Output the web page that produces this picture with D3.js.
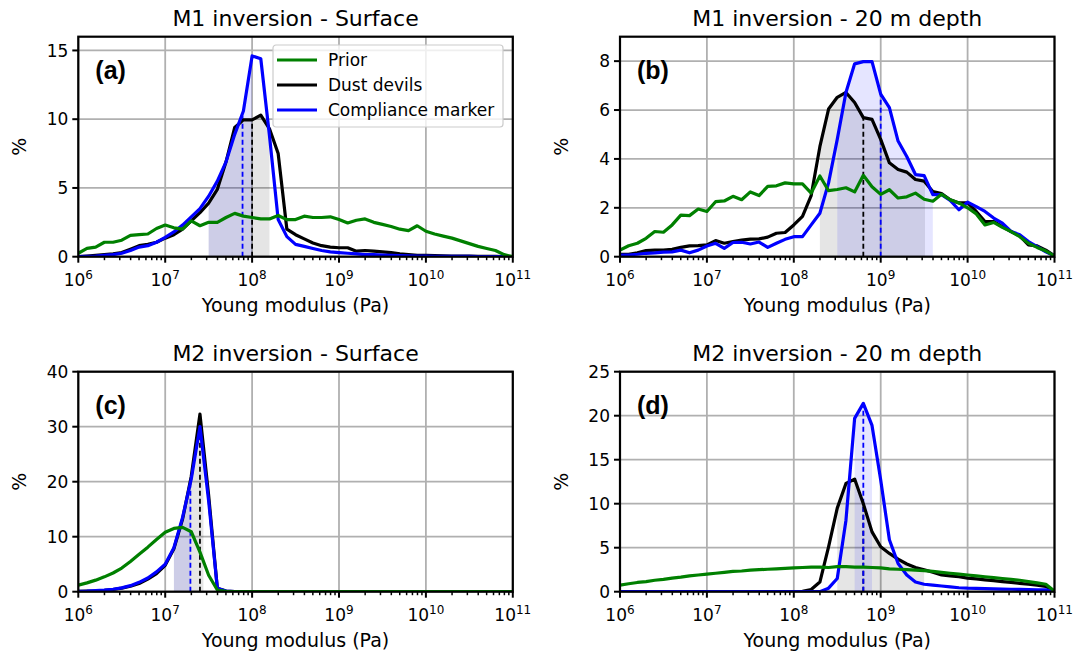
<!DOCTYPE html>
<html>
<head>
<meta charset="utf-8">
<script src="https://cdn.jsdelivr.net/npm/d3@7/dist/d3.min.js"></script>
<style>
  body { margin: 0; background: #fff; }
  text { font-family: "DejaVu Sans", sans-serif; fill: #000; }
</style>
</head>
<body>
<div id="chart"></div>
<script>
// log10 of the Young modulus (Pa) at each histogram point
var logE = [6.0,6.1,6.2,6.3,6.4,6.5,6.6,6.7,6.8,6.9,
            7.0,7.1,7.2,7.3,7.4,7.5,7.6,7.7,7.8,7.9,
            8.0,8.1,8.2,8.3,8.4,8.5,8.6,8.7,8.8,8.9,
            9.0,9.1,9.2,9.3,9.4,9.5,9.6,9.7,9.8,9.9,
            10.0,10.1,10.2,10.3,10.4,10.5,10.6,10.7,10.8,10.9,
            11.0];

// (a) M1 surface
var priorA = [0.25,0.6,0.7,1.05,1.05,1.2,1.55,1.6,1.65,2.05,
              2.3,2.1,2.0,2.6,2.25,2.5,2.5,2.85,3.15,2.95,
              2.85,2.75,2.75,3.0,2.7,2.7,2.95,2.85,2.85,2.9,
              2.7,2.45,2.65,2.75,2.5,2.35,2.2,2.0,1.9,2.25,
              1.85,1.65,1.5,1.35,1.15,0.95,0.75,0.6,0.45,0.15,
              0];
var dustA = [0,0.05,0.1,0.15,0.2,0.3,0.55,0.8,0.9,1.05,
             1.35,1.6,2.0,2.6,3.2,3.9,4.9,6.9,9.4,9.95,
             9.95,10.3,9.3,7.5,2.0,1.6,1.3,1.0,0.8,0.7,
             0.65,0.65,0.4,0.45,0.4,0.35,0.3,0.2,0.15,0.1,
             0.1,0.08,0.06,0.05,0.05,0.04,0.03,0.02,0.02,0.01,
             0];
var compA = [0,0.02,0.05,0.1,0.15,0.25,0.45,0.7,0.8,1.05,
             1.4,1.8,2.3,2.9,3.5,4.4,5.5,6.9,8.9,10.6,
             14.6,14.4,8.8,2.7,1.46,0.9,0.75,0.6,0.45,0.35,
             0.3,0.25,0.2,0.15,0.15,0.12,0.1,0.08,0.06,0.05,
             0.04,0.03,0.03,0.02,0.02,0.02,0.01,0.01,0.01,0.01,
             0];

// (b) M1 20 m depth
var priorB = [0.27,0.45,0.55,0.75,1.03,1.0,1.3,1.7,1.68,1.95,
              1.85,2.25,2.28,2.47,2.33,2.65,2.5,2.88,2.9,3.02,
              2.98,2.98,2.6,3.3,2.7,2.75,2.82,2.65,3.33,2.86,
              2.55,2.74,2.4,2.45,2.6,2.35,2.27,2.55,2.33,2.2,
              2.0,1.75,1.3,1.4,1.2,1.03,0.82,0.55,0.38,0.23,
              0.03];
var dustB = [0.1,0.1,0.16,0.25,0.27,0.27,0.3,0.38,0.44,0.45,
             0.48,0.66,0.55,0.62,0.68,0.72,0.73,0.8,0.96,0.99,
             1.3,1.65,2.5,4.5,6.04,6.52,6.72,6.31,5.69,5.62,
             4.8,3.84,3.57,3.46,3.16,3.09,2.67,2.58,2.33,2.2,
             2.2,1.85,1.44,1.44,1.23,1.03,0.85,0.48,0.44,0.27,
             0.03];
var compB = [0.07,0.07,0.1,0.14,0.16,0.19,0.2,0.27,0.16,0.27,
             0.44,0.55,0.34,0.58,0.59,0.52,0.6,0.38,0.55,0.71,
             0.82,0.82,1.3,1.78,3.02,4.8,6.72,7.89,7.98,7.98,
             6.65,6.1,4.73,4.1,3.36,3.32,2.54,2.54,2.3,1.92,
             2.23,2.05,1.85,1.58,1.37,1.03,0.9,0.62,0.41,0.2,
             0.03];

// (c) M2 surface
var priorC = [1.2,1.6,2.1,2.7,3.4,4.3,5.5,6.8,8.1,9.5,
              10.8,11.5,11.7,10.9,7.2,3.0,0.3,0.05,0.02,0.02,
              0.02,0.02,0.02,0.02,0.02,0.02,0.02,0.02,0.02,0.02,
              0.02,0.02,0.02,0.02,0.02,0.02,0.02,0.02,0.02,0.02,
              0.02,0.02,0.02,0.02,0.02,0.02,0.02,0.02,0.02,0.02,
              0.02];
var dustC = [0.05,0.1,0.15,0.25,0.4,0.65,1.0,1.5,2.3,3.3,
             4.8,7.8,13.2,21.0,32.3,17.5,0.6,0.1,0,0,
             0,0,0,0,0,0,0,0,0,0,
             0,0,0,0,0,0,0,0,0,0,
             0,0,0,0,0,0,0,0,0,0,
             0];
var compC = [0.05,0.1,0.2,0.3,0.45,0.7,1.1,1.7,2.5,3.6,
             5.0,8.0,13.5,20.5,30.0,16.5,0.6,0.1,0,0,
             0,0,0,0,0,0,0,0,0,0,
             0,0,0,0,0,0,0,0,0,0,
             0,0,0,0,0,0,0,0,0,0,
             0];

// (d) M2 20 m depth
var priorD = [0.75,0.9,1.05,1.15,1.3,1.4,1.55,1.65,1.8,1.9,
              2.0,2.1,2.2,2.3,2.35,2.45,2.5,2.55,2.6,2.65,
              2.7,2.75,2.8,2.8,2.75,2.85,2.85,2.8,2.8,2.75,
              2.7,2.6,2.55,2.5,2.45,2.4,2.3,2.2,2.1,2.0,
              1.9,1.8,1.7,1.6,1.5,1.4,1.3,1.15,1.0,0.85,
              0.05];
var dustD = [0,0,0,0,0,0,0,0,0,0,
             0,0,0,0,0,0,0,0,0,0,
             0,0.05,0.25,1.1,5.1,9.5,12.3,12.8,10.0,6.8,
             5.1,4.35,3.7,3.15,2.75,2.5,2.2,1.9,1.8,1.7,
             1.55,1.45,1.35,1.25,1.15,1.05,0.95,0.85,0.75,0.6,
             0.05];
var compD = [0,0,0,0,0,0,0,0,0,0,
             0,0,0,0,0,0,0,0,0,0,
             0,0,0,0,0.4,1.5,8.1,19.7,21.4,18.9,
             12.7,5.9,3.2,1.9,1.1,0.85,0.75,0.65,0.55,0.45,
             0.4,0.38,0.35,0.33,0.3,0.28,0.26,0.24,0.22,0.2,
             0];

// shaded intervals and medians (log10 Pa)
var ciDust = [[7.5, 8.2], [8.3, 9.51], [7.1, 7.44], [8.5, 9.5]];
var ciComp = [[7.5, 8.0], [8.5, 9.6], [7.1, 7.29], [8.7, 8.9]];
var medDust = [8.0, 8.8, 7.4, 8.8];
var medComp = [7.89, 9.0, 7.29, 8.8];

var titles = ["M1 inversion - Surface", "M1 inversion - 20 m depth",
              "M2 inversion - Surface", "M2 inversion - 20 m depth"];
var letters = ["(a)", "(b)", "(c)", "(d)"];
var yMax = [16, 9, 40, 25];
var yTicks = [[0,5,10,15], [0,2,4,6,8], [0,10,20,30,40], [0,5,10,15,20,25]];
var xExp = [6,7,8,9,10,11];

var priors = [priorA, priorB, priorC, priorD];
var dusts = [dustA, dustB, dustC, dustD];
var comps = [compA, compB, compC, compD];

var legendNames = ["Prior", "Dust devils", "Compliance marker"];
var colPrior = "#008000", colDust = "#000000", colComp = "#0000ff";

var W = 434.5, H = 220;
var lefts = [78.3, 620, 78.3, 620];
var tops = [36.7, 36.7, 371.7, 371.7];

var svg = d3.select("#chart").append("svg")
    .attr("width", 1090)
    .attr("height", 656);

function valueAt(series, lv) {
    for (var k = 0; k < logE.length - 1; k++) {
        if (lv >= logE[k] && lv <= logE[k+1]) {
            var t = (lv - logE[k]) / (logE[k+1] - logE[k]);
            return series[k] + t * (series[k+1] - series[k]);
        }
    }
    return series[series.length - 1];
}

function bandPoints(series, lo, hi) {
    var pts = [{l: lo, v: valueAt(series, lo)}];
    for (var k = 0; k < logE.length; k++) {
        if (logE[k] > lo + 1e-9 && logE[k] < hi - 1e-9) pts.push({l: logE[k], v: series[k]});
    }
    pts.push({l: hi, v: valueAt(series, hi)});
    return pts;
}

for (var p = 0; p < 4; p++) {
    var g = svg.append("g").attr("transform", "translate(" + lefts[p] + "," + tops[p] + ")");

    var x = d3.scaleLog().domain([1e6, 1e11]).range([0, W]);
    var y = d3.scaleLinear().domain([0, yMax[p]]).range([H, 0]);

    g.append("clipPath").attr("id", "clip" + p)
        .append("rect").attr("width", W).attr("height", H);

    // grid
    xExp.forEach(function(e) {
        g.append("line")
            .attr("x1", x(Math.pow(10, e))).attr("x2", x(Math.pow(10, e)))
            .attr("y1", 0).attr("y2", H)
            .attr("stroke", "#b0b0b0").attr("stroke-width", 1.8);
    });
    yTicks[p].forEach(function(t) {
        g.append("line")
            .attr("x1", 0).attr("x2", W)
            .attr("y1", y(t)).attr("y2", y(t))
            .attr("stroke", "#b0b0b0").attr("stroke-width", 1.8);
    });

    var plot = g.append("g").attr("clip-path", "url(#clip" + p + ")");

    var area = d3.area()
        .x(function(d) { return x(Math.pow(10, d.l)); })
        .y0(y(0))
        .y1(function(d) { return y(d.v); });

    plot.append("path")
        .attr("d", area(bandPoints(dusts[p], ciDust[p][0], ciDust[p][1])))
        .attr("fill", "#000").attr("fill-opacity", 0.1);
    plot.append("path")
        .attr("d", area(bandPoints(comps[p], ciComp[p][0], ciComp[p][1])))
        .attr("fill", "#0000ff").attr("fill-opacity", 0.1);

    // median lines
    plot.append("line")
        .attr("x1", x(Math.pow(10, medDust[p]))).attr("x2", x(Math.pow(10, medDust[p])))
        .attr("y1", y(0)).attr("y2", y(valueAt(dusts[p], medDust[p])))
        .attr("stroke", colDust).attr("stroke-width", 1.8).attr("stroke-dasharray", "5,3");
    plot.append("line")
        .attr("x1", x(Math.pow(10, medComp[p]))).attr("x2", x(Math.pow(10, medComp[p])))
        .attr("y1", y(0)).attr("y2", y(valueAt(comps[p], medComp[p])))
        .attr("stroke", colComp).attr("stroke-width", 1.8).attr("stroke-dasharray", "5,3");

    var line = d3.line()
        .x(function(d, i) { return x(Math.pow(10, logE[i])); })
        .y(function(d) { return y(d); });

    [[dusts[p], colDust], [comps[p], colComp], [priors[p], colPrior]].forEach(function(s) {
        plot.append("path")
            .attr("d", line(s[0]))
            .attr("fill", "none")
            .attr("stroke", s[1])
            .attr("stroke-width", 3.2)
            .attr("stroke-linejoin", "round");
    });

    // frame
    g.append("rect").attr("width", W).attr("height", H)
        .attr("fill", "none").attr("stroke", "#000").attr("stroke-width", 2.2);

    // x ticks (major + minor)
    xExp.forEach(function(e, i) {
        g.append("line")
            .attr("x1", x(Math.pow(10, e))).attr("x2", x(Math.pow(10, e)))
            .attr("y1", H).attr("y2", H + 6)
            .attr("stroke", "#000").attr("stroke-width", 2);
        var lab = g.append("text")
            .attr("x", x(Math.pow(10, e)))
            .attr("y", H + 29)
            .attr("text-anchor", "middle")
            .style("font-size", "17px");
        lab.append("tspan").text("10");
        lab.append("tspan").attr("dy", -7).style("font-size", "12px").text(e);
        if (i < xExp.length - 1) {
            for (var m = 2; m <= 9; m++) {
                var xv = x(m * Math.pow(10, e));
                g.append("line")
                    .attr("x1", xv).attr("x2", xv)
                    .attr("y1", H).attr("y2", H + 3.5)
                    .attr("stroke", "#000").attr("stroke-width", 1.5);
            }
        }
    });

    // y ticks
    yTicks[p].forEach(function(t) {
        g.append("line")
            .attr("x1", -6).attr("x2", 0)
            .attr("y1", y(t)).attr("y2", y(t))
            .attr("stroke", "#000").attr("stroke-width", 2);
        g.append("text")
            .attr("x", -10)
            .attr("y", y(t))
            .attr("dy", "0.36em")
            .attr("text-anchor", "end")
            .style("font-size", "17px")
            .text(t);
    });

    g.append("text")
        .attr("x", W / 2).attr("y", -11)
        .attr("text-anchor", "middle")
        .style("font-size", "22px")
        .text(titles[p]);

    g.append("text")
        .attr("x", W / 2).attr("y", H + 55)
        .attr("text-anchor", "middle")
        .style("font-size", "19px")
        .text("Young modulus (Pa)");

    g.append("text")
        .attr("transform", "translate(-52," + (H / 2) + ") rotate(-90)")
        .attr("text-anchor", "middle")
        .style("font-size", "19px")
        .text("%");

    g.append("text")
        .attr("x", 17).attr("y", 42)
        .style("font-family", "'Liberation Sans', Arial, sans-serif")
        .style("font-weight", "bold")
        .style("font-size", "25px")
        .text(letters[p]);

    if (p === 0) {
        var lg = g.append("g").attr("transform", "translate(" + (273 - lefts[0]) + "," + (45 - tops[0]) + ")");
        lg.append("rect")
            .attr("width", 230).attr("height", 82)
            .attr("rx", 3)
            .attr("fill", "#fff").attr("fill-opacity", 0.8)
            .attr("stroke", "#cccccc").attr("stroke-width", 1.2);
        [colPrior, colDust, colComp].forEach(function(c, i) {
            lg.append("line")
                .attr("x1", 4).attr("x2", 44)
                .attr("y1", 15 + i * 25).attr("y2", 15 + i * 25)
                .attr("stroke", c).attr("stroke-width", 3.2);
            lg.append("text")
                .attr("x", 55).attr("y", 15 + i * 25)
                .attr("dy", "0.36em")
                .style("font-size", "17px")
                .text(legendNames[i]);
        });
    }
}
</script>
</body>
</html>
